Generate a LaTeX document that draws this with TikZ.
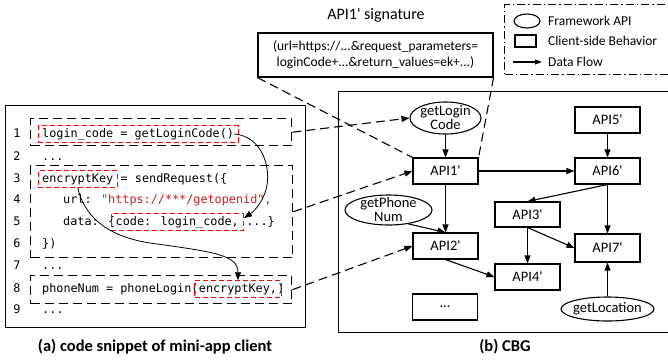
\documentclass[tikz,border=0pt]{standalone}
\usepackage{fontspec}
\setmainfont{Carlito}[Ligatures=TeXOff]
\newfontfamily\codefont{DejaVu Sans Mono}[Ligatures=TeXOff]
\usetikzlibrary{arrows.meta,shapes.geometric,fit,calc}
\definecolor{codered}{RGB}{200,30,30}
\begin{document}
\begin{tikzpicture}[x=1pt,y=-1pt,
  code/.style={anchor=base west,inner sep=0pt,font=\codefont\fontsize{11.8}{13}\selectfont,text height=9pt,text depth=3pt},
  lnum/.style={anchor=base,inner sep=0pt,font=\codefont\fontsize{11.8}{13}\selectfont},
  redbox/.style={draw=red,dash pattern=on 5pt off 3pt,line width=1pt,inner xsep=4pt,inner ysep=2pt},
  blkbox/.style={draw,dash pattern=on 9pt off 5pt,line width=1.4pt,anchor=north west,inner sep=0pt},
  api/.style={draw,line width=1.1pt,minimum width=65pt,minimum height=26pt,inner sep=0pt,font=\fontsize{14.5}{14}\selectfont},
  fwshape/.style={draw,ellipse,line width=1.1pt,inner sep=0pt},
  fwtext/.style={inner sep=0pt,align=center,font=\fontsize{14.5}{14}\selectfont},
  flow/.style={-{Triangle[length=8pt,width=6pt]},line width=1.1pt},
  link/.style={-{Triangle[length=8pt,width=6pt]},dash pattern=on 9pt off 5pt,line width=1.1pt},
  sigline/.style={dash pattern=on 9pt off 5pt,line width=1.1pt},
  captxt/.style={font=\bfseries\fontsize{16.5}{18}\selectfont},
  legtxt/.style={anchor=west,inner sep=0pt,font=\fontsize{13.5}{16}\selectfont}
]
\useasboundingbox (0,0) rectangle (668,362);
\clip (0,0) rectangle (668,362);

% ---------- code snippet ----------
\node[draw,line width=1.3pt,anchor=north west,minimum width=300pt,minimum height=222pt,inner sep=0pt] (codebox) at (5,105) {};
\node[blkbox,minimum width=261pt,minimum height=27pt] (b1) at (30,118) {};
\node[blkbox,minimum width=262pt,minimum height=92pt] (b2) at (30,165) {};
\node[blkbox,minimum width=261pt,minimum height=28pt] (b3) at (30,275) {};

\node[lnum] (n1) at (17,137) {1};
\node[lnum] (n2) at (17,160) {2};
\node[lnum] (n3) at (17,182) {3};
\node[lnum] (n4) at (17,203) {4};
\node[lnum] (n5) at (17,225) {5};
\node[lnum] (n6) at (17,247) {6};
\node[lnum] (n7) at (17,269) {7};
\node[lnum] (n8) at (17,292) {8};
\node[lnum] (n9) at (17,313) {9};

\node[code] (c1) at (42,137) {login\_code = getLoginCode()};
\node[code] (c2) at (42,160) {...};
\node[code] (c3a) at (42,182) {encryptKey};
\node[code] (c3b) at (c3a.base east) {\ = sendRequest(\{};
\node[code] (c4) at (63,203) {url: \textcolor{codered}{"https://***/getopenid",}};
\node[code] (c5a) at (63,225) {data: \{};
\node[code] (c5b) at (c5a.base east) {code: login\_code,};
\node[code] (c5c) at (c5b.base east) {\ ...\}};
\node[code] (c6) at (42,247) {\})};
\node[code] (c7) at (42,269) {...};
\node[code] (c8a) at (42,292) {phoneNum = phoneLogin(};
\node[code] (c8b) at (c8a.base east) {encryptKey,};
\node[code] (c8c) at (c8b.base east) {)};
\node[code] (c9) at (42,313) {...};

\node[redbox,fit=(c1)] (r1) {};
\node[redbox,fit=(c3a)] (r3) {};
\node[redbox,fit=(c5b)] (r5) {};
\node[redbox,fit=(c8b)] (r8) {};

\coordinate (k1) at (244,218);
\draw[flow,line width=0.8pt] (c1.east) .. controls (262,136) and (272,168) .. (266,190) .. controls (261,205) and (253,212) .. (k1);
\draw[flow,line width=0.8pt] (r3.south) .. controls (84,215) and (105,236) .. (150,243) .. controls (215,252) and (238,255) .. (r8.north);

\node[captxt] (capa) at (155,347) {(a) code snippet of mini-app client};

% ---------- CBG ----------
\node[draw,line width=1.3pt,anchor=north west,minimum width=340pt,minimum height=241pt,inner sep=0pt] (cbg) at (338,91) {};

\node[fwshape,minimum width=71pt,minimum height=32pt] (glc) at (445.5,118) {};
\node[fwtext] (glct) at (glc) {getLogin\\Code};
\node[api] (a1) at (445.5,171) {API1'};
\node[api] (a5) at (607.5,120) {API5'};
\node[api] (a6) at (607.5,171) {API6'};
\node[api,minimum height=25pt] (a3) at (527.5,214.5) {API3'};
\node[fwshape,minimum width=87pt,minimum height=30pt] (gpn) at (388.5,210) {};
\node[fwtext] (gpnt) at (gpn) {getPhone\\Num};
\node[api] (a2) at (445.5,246) {API2'};
\node[api] (a4) at (527.5,277) {API4'};
\node[api,minimum height=28pt] (a7) at (607.5,248) {API7'};
\node[api] (dots) at (445,307) {...};
\node[fwshape,minimum width=93pt,minimum height=24pt] (gl) at (607.5,309) {};
\node[fwtext] (glt) at (gl) {getLocation};

\draw[flow] (glc) -- (a1);
\draw[flow] (a5) -- (a6);
\draw[flow] (a1) -- (a6);
\draw[flow] (a6.south) -- (a3.north);
\draw[flow] (a6) -- (a7);
\draw[flow] (a1) -- (a2);
\draw[flow] (gpn.-35) -- (a2.north);
\draw[flow] (a3) -- (a4);
\draw[flow] (a3.south) -- (a7.west);
\draw[flow] (a2.south) -- (a4.west);
\draw[flow] (gl) -- (a7);

\node[captxt] (capb) at (505,347) {(b) CBG};

% ---------- links ----------
\draw[link] (b1.east) -- (glc.west);
\draw[link] (b2.east) -- (a1.west);
\draw[link] (b3.east) -- (a2.west);

% ---------- signature ----------
\node[draw,line width=1.1pt,minimum width=235pt,minimum height=44pt,align=center,font=\fontsize{13.5}{16}\selectfont] (sig) at (375.5,55) {(url=https://...\&request\_parameters=\\loginCode+...\&return\_values=ek+...)};
\node[font=\fontsize{16}{18}\selectfont] (sigt) at (376,15) {API1' signature};
\draw[sigline] (sig.south west) -- (a1.north west);
\draw[sigline] (sig.south east) -- (a1.north east);

% ---------- legend ----------
\node[draw,dash pattern=on 8pt off 3pt on 1.5pt off 3pt,line width=1.1pt,anchor=north west,minimum width=200pt,minimum height=70pt,inner sep=0pt] (leg) at (504,4) {};
\node[fwshape,minimum width=26pt,minimum height=14pt] (le) at (527,21) {};
\node[draw,line width=1.1pt,minimum width=21pt,minimum height=12pt,inner sep=0pt] (lr) at (525.5,41) {};
\coordinate (la1) at (513,62);
\coordinate (la2) at (542,62);
\draw[-{Triangle[length=7pt,width=5pt]},line width=1.1pt] (la1) -- (la2);
\node[legtxt] (lt1) at (548,21) {Framework API};
\node[legtxt] (lt2) at (548,41) {Client-side Behavior};
\node[legtxt] (lt3) at (548,62) {Data Flow};
\end{tikzpicture}
\end{document}
